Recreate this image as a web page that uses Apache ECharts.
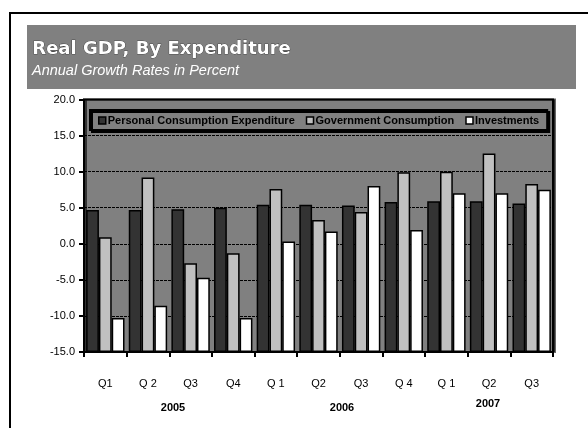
<!DOCTYPE html>
<html>
<head>
<meta charset="utf-8">
<style>
  html, body { margin: 0; padding: 0; background: #ffffff; }
  #chart { width: 588px; height: 428px; }
</style>
<script src="https://cdn.jsdelivr.net/npm/echarts@6/dist/echarts.min.js"></script>
</head>
<body>
<div id="chart"></div>
<script>
// Quarterly categories and their year groupings
const quarters = ['Q1', 'Q 2', 'Q3', 'Q4', 'Q 1', 'Q2', 'Q3', 'Q 4', 'Q 1', 'Q2', 'Q3'];
const years = ['2005', '2006', '2007'];

// Annual growth rates, percent
const personalConsumption = [4.7, 4.7, 4.8, 5.0, 5.4, 5.4, 5.3, 5.8, 5.9, 5.9, 5.6];
const governmentConsumption = [0.9, 9.2, -2.7, -1.3, 7.6, 3.3, 4.4, 9.9, 10.0, 12.5, 8.3];
const investments = [-10.3, -8.6, -4.7, -10.3, 0.3, 1.7, 8.0, 1.9, 7.0, 7.0, 7.5];

// Value axis ticks
const yTicks = [-15, -10, -5, 0, 5, 10, 15, 20];

const chart = echarts.init(document.getElementById('chart'), null, { renderer: 'canvas' });

const FONT = '"Liberation Sans", Arial, sans-serif';
const barBorder = { borderColor: '#000000', borderWidth: 1.5 };

function barSeries(name, data, color) {
  return {
    name: name,
    type: 'bar',
    data: data,
    barGap: '0%',
    barCategoryGap: '10%',
    itemStyle: Object.assign({ color: color }, barBorder),
    emphasis: { disabled: true }
  };
}

function yearLabel(text, x, y) {
  return { type: 'text', x: x, y: y,
    style: { text: text, fill: '#000000', align: 'center', verticalAlign: 'middle',
      font: 'bold 11px ' + FONT }, z: 10 };
}

const option = {
  animation: false,
  backgroundColor: '#ffffff',
  graphic: [
    // outer frame
    { type: 'rect', shape: { x: 10, y: 13, width: 600, height: 440 },
      style: { fill: 'none', stroke: '#000000', lineWidth: 2 }, z: 0 },
    // title banner
    { type: 'rect', shape: { x: 27, y: 25, width: 549, height: 64 },
      style: { fill: '#808080' }, z: 0 },
    { type: 'text', left: 32, top: 40,
      style: { text: 'Real GDP, By Expenditure', fill: '#ffffff',
        font: 'bold 18px "DejaVu Sans", sans-serif',
        stroke: '#1a1a1a', lineWidth: 0.6,
        textShadowColor: '#111111', textShadowOffsetX: 1.5, textShadowOffsetY: 1.5, textShadowBlur: 0 }, z: 10 },
    { type: 'text', left: 32, top: 63,
      style: { text: 'Annual Growth Rates in Percent', fill: '#ffffff',
        font: 'italic 14.5px ' + FONT }, z: 10 },
    // year labels under the quarter labels
    yearLabel(years[0], 173, 408),
    yearLabel(years[1], 342, 408),
    yearLabel(years[2], 488, 404)
  ],
  legend: {
    left: 90,
    top: 110,
    width: 470,
    padding: [5, 8, 4, 8],
    backgroundColor: '#808080',
    borderColor: '#000000',
    borderWidth: 2,
    shadowColor: '#000000',
    shadowOffsetX: 2,
    shadowOffsetY: 2,
    shadowBlur: 0,
    itemWidth: 7,
    itemHeight: 7,
    itemGap: 11,
    icon: 'rect',
    selectedMode: false,
    itemStyle: { borderColor: '#000000', borderWidth: 1.5 },
    textStyle: { color: '#000000', fontSize: 11, fontWeight: 'bold',
      fontFamily: FONT, padding: [0, 0, 0, -3] },
    data: ['Personal Consumption Expenditure', 'Government Consumption', 'Investments']
  },
  grid: {
    left: 84,
    right: 35,
    top: 99.5,
    bottom: 76,
    show: true,
    backgroundColor: '#808080',
    borderColor: '#000000',
    borderWidth: 2,
    shadowColor: 'rgba(0,0,0,0.6)',
    shadowOffsetX: 2,
    shadowOffsetY: 0,
    shadowBlur: 0
  },
  xAxis: {
    type: 'category',
    data: quarters,
    axisLine: { onZero: false, lineStyle: { color: '#000000', width: 2 } },
    axisTick: { show: true, length: 5, lineStyle: { color: '#000000', width: 2 } },
    axisLabel: { color: '#000000', fontSize: 11, margin: 26, fontFamily: FONT },
    splitLine: { show: false }
  },
  yAxis: {
    type: 'value',
    min: yTicks[0],
    max: yTicks[yTicks.length - 1],
    interval: 5,
    startValue: yTicks[0],
    axisLine: { show: true, lineStyle: { color: '#000000', width: 2 } },
    axisTick: { show: true, length: 5, lineStyle: { color: '#000000', width: 2 } },
    axisLabel: { color: '#000000', fontSize: 11, margin: 9, fontFamily: FONT,
      formatter: function (v) { return v.toFixed(1); } },
    splitLine: { show: true, lineStyle: { color: '#000000', width: 1, type: [3, 1] } }
  },
  series: [
    barSeries('Personal Consumption Expenditure', personalConsumption, '#333333'),
    barSeries('Government Consumption', governmentConsumption, '#c0c0c0'),
    barSeries('Investments', investments, '#ffffff')
  ]
};

chart.setOption(option);
</script>
</body>
</html>
